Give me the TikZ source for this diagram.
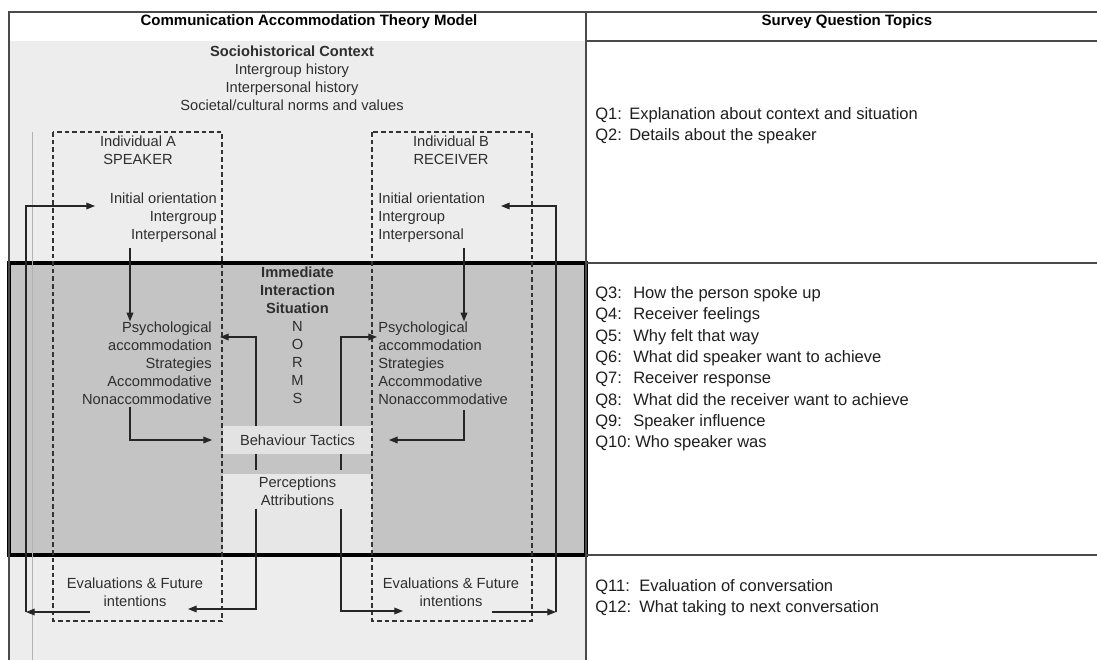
\documentclass[tikz,border=0pt]{standalone}
\usepackage{fontspec}
\setmainfont{Liberation Sans}
\usepackage{tikz}
\usetikzlibrary{arrows.meta}

\definecolor{ctxgray}{HTML}{EDEDED}
\definecolor{iisgray}{HTML}{C4C4C4}
\definecolor{tacgray}{HTML}{E3E3E3}
\definecolor{pergray}{HTML}{E7E7E7}
\definecolor{rulegray}{HTML}{4A4A4A}
\definecolor{inkgray}{HTML}{2E2E2E}

\newcommand{\qline}[3]{\makebox[#1][l]{#2}#3}

\begin{document}
\begin{tikzpicture}[x=0.75pt, y=-0.75pt,
        >={Triangle[length=6.5pt,width=5pt]},
        txt/.style={inner sep=0pt, text=inkgray, font=\fontsize{11}{13.5}\selectfont},
        hdr/.style={inner sep=0pt, text=black, font=\fontsize{11.25}{13.5}\selectfont\bfseries},
        qtxt/.style={inner sep=0pt, anchor=west, align=left, text=black!88, font=\fontsize{12.4}{16}\selectfont},
        indbox/.style={draw=black!80, line width=1pt, dash pattern=on 3.5pt off 2.2pt},
        link/.style={draw=black!85, line width=0.9pt},
        tactic/.style={fill=tacgray, inner sep=0pt, minimum width=111.75pt, minimum height=21pt, text=inkgray, font=\fontsize{11}{13.5}\selectfont}]

        \useasboundingbox (0,0) rectangle (1097,660);
        \fill[white] (0,0) rectangle (1097,660);

        % table body
        \fill[ctxgray] (9,41) rectangle (586,660);
        \fill[iisgray] (9,263) rectangle (586,555);
        \node[tactic] (behav) at (297.5,440) {Behaviour Tactics};
        \node[fill=pergray, inner sep=0pt, minimum width=111.75pt, minimum height=60.75pt] (percbox) at (297.5,514.5) {};
        \draw[line width=2.5pt] (9,263) rectangle (586,555);
        \draw[black!30, line width=0.7pt] (32,132) -- (32,660);

        \draw[rulegray, line width=1.2pt] (9,660) -- (9,12) -- (1097,12);
        \draw[rulegray, line width=1pt] (586,12) -- (586,660);
        \draw[rulegray, line width=0.9pt] (586,41) -- (1097,41);
        \draw[rulegray, line width=0.9pt] (586,263) -- (1097,263) (586,555) -- (1097,555);

        \draw[indbox] (53,132) rectangle (222,621);
        \draw[indbox] (372,132) rectangle (532,621);

        \node[hdr] (camhead) at (309,22) {Communication Accommodation Theory Model};
        \node[hdr] (sqhead) at (847,22) {Survey Question Topics};

        \node[txt, align=center] (socio) at (292,78) {\textbf{Sociohistorical Context}\\Intergroup history\\Interpersonal history\\Societal/cultural norms and values};
        \node[txt, align=center] (indA) at (138,150.5) {Individual A\\SPEAKER};
        \node[txt, align=center] (indB) at (451,150.5) {Individual B\\RECEIVER};
        \node[txt, align=right, anchor=east] (initA) at (217,218) {Initial orientation\\Intergroup\\Interpersonal};
        \node[txt, align=left, anchor=west] (initB) at (378,218) {Initial orientation\\Intergroup\\Interpersonal};
        \node[txt, align=center] (iis) at (297.5,335.5) {\textbf{Immediate}\\\textbf{Interaction}\\\textbf{Situation}\\N\\O\\R\\M\\S};
        \node[txt, align=right, anchor=east] (psyA) at (212,363) {Psychological\\accommodation\\Strategies\\Accommodative\\Nonaccommodative};
        \node[txt, align=left, anchor=west] (psyB) at (378,363) {Psychological\\accommodation\\Strategies\\Accommodative\\Nonaccommodative};
        \node[txt, align=center] (perc) at (297.5,491.5) {Perceptions\\Attributions};
        \node[txt, align=center] (evalA) at (135,592.5) {Evaluations \& Future\\intentions};
        \node[txt, align=center] (evalB) at (451,592.5) {Evaluations \& Future\\intentions};

        \node[qtxt] (qctx) at (595,125.5) {\qline{25.5pt}{Q1:}{Explanation about context and situation}\\
            \qline{25.5pt}{Q2:}{Details about the speaker}};
        \node[qtxt] (qiis) at (595,369) {\qline{28.5pt}{Q3:}{How the person spoke up}\\
            \qline{28.5pt}{Q4:}{Receiver feelings}\\
            \qline{28.5pt}{Q5:}{Why felt that way}\\
            \qline{28.5pt}{Q6:}{What did speaker want to achieve}\\
            \qline{28.5pt}{Q7:}{Receiver response}\\
            \qline{28.5pt}{Q8:}{What did the receiver want to achieve}\\
            \qline{28.5pt}{Q9:}{Speaker influence}\\
            \qline{30pt}{Q10:}{Who speaker was}};
        \node[qtxt] (qeval) at (595,598) {\qline{33pt}{Q11:}{Evaluation of conversation}\\
            \qline{33pt}{Q12:}{What taking to next conversation}};

        % arrow columns and ends
        \coordinate (colA) at (130,0);
        \coordinate (colB) at (464,0);
        \coordinate (lnkA) at (256,0);
        \coordinate (lnkB) at (341,0);
        \coordinate (psyAin) at (220,337);
        \coordinate (psyBin) at (377,337);
        \coordinate (evAin) at (188,609);
        \coordinate (evBin) at (403,611);
        \coordinate (evAout) at (90,612);
        \coordinate (evBout) at (492,612);
        \coordinate (fbA) at (26,612);
        \coordinate (fbB) at (556,612);
        \coordinate (initAin) at (95,206);
        \coordinate (initBin) at (501,206);

        \draw[link, ->, shorten <=4pt] (initA.south -| colA) -- (psyA.north -| colA);
        \draw[link, ->, shorten <=4pt] (initB.south -| colB) -- (psyB.north -| colB);
        \draw[link, ->, shorten <=2pt, shorten >=8pt] (psyA.south -| colA) |- (behav.west);
        \draw[link, ->, shorten <=4pt, shorten >=12.5pt] (psyB.south -| colB) |- (behav.east);

        \draw[link, ->] (behav.north -| lnkA) |- (psyAin);
        \draw[link, ->] (behav.north -| lnkB) |- (psyBin);
        \foreach \s in {A, B}
        {
            \draw[link, shorten >=3pt] (behav.south -| lnk\s) -- (percbox.north -| lnk\s);
        }
        \draw[link, ->, shorten <=2pt] (perc.south -| lnkA) |- (evAin);
        \draw[link, ->, shorten <=2pt] (perc.south -| lnkB) |- (evBin);

        \draw[link, ->] (evAout) -- (fbA);
        \draw[link, ->] (fbA) |- (initAin);
        \draw[link, ->] (evBout) -- (fbB);
        \draw[link, ->] (fbB) |- (initBin);
    \end{tikzpicture}
\end{document}
